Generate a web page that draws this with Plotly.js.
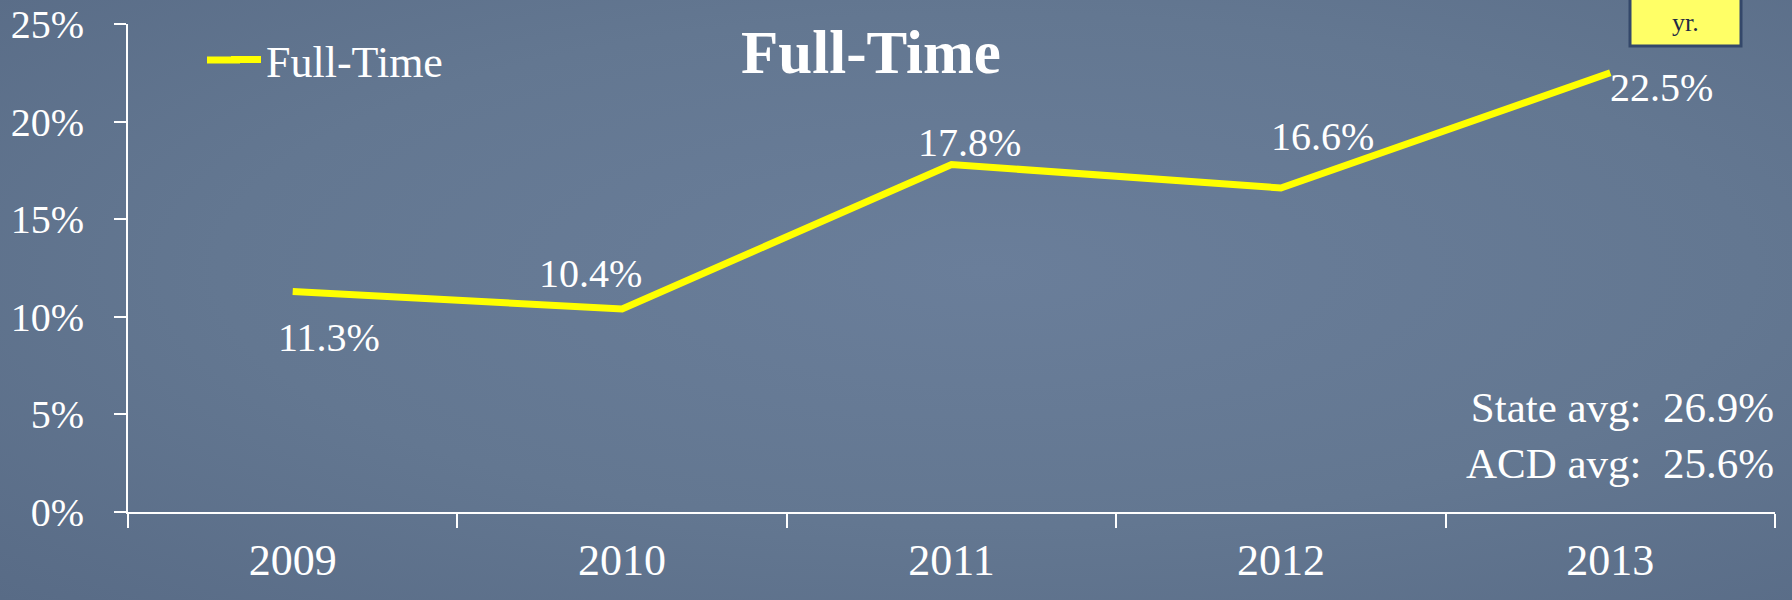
<!DOCTYPE html>
<html>
<head>
<meta charset="utf-8">
<script src="https://cdn.plot.ly/plotly-3.0.1.min.js"></script>
<style>
  html, body { margin: 0; padding: 0; }
  body {
    width: 1792px; height: 600px; overflow: hidden;
    background: radial-gradient(ellipse at 55% 45%, #6a7e9a 0%, #637791 55%, #586b86 100%);
  }
  #chart { width: 1792px; height: 600px; }
</style>
</head>
<body>
<div id="chart"></div>
<script>
// ---- data ----
const years = ['2009', '2010', '2011', '2012', '2013'];
const fullTime = [11.3, 10.4, 17.8, 16.6, 22.5];
const seriesName = 'Full-Time';
const chartTitle = 'Full-Time';
const stateAvg = 26.9;
const acdAvg = 25.6;
const noteText = 'yr.';

// ---- label offsets (pixels, styling only) ----
const labelShiftX = [36, -32, 18, 42, 51];
const labelShiftY = [-46, 35, 22, 51, -15];

const FONT = 'Liberation Serif, Times New Roman, serif';
const nb = '\u00a0';
const PX = v => (v - 128) / 1647;   // pixel x -> paper x
const PY = v => (512 - v) / 488;    // pixel y -> paper y

const trace = {
  type: 'scatter',
  mode: 'lines',
  x: years,
  y: fullTime,
  name: seriesName,
  line: { color: '#ffff00', width: 7 },
  showlegend: true,
  hoverinfo: 'none'
};

// category axis: annotation x given as category index
const annotations = years.map((yr, i) => ({
  x: i, y: fullTime[i], xref: 'x', yref: 'y',
  text: fullTime[i].toFixed(1) + '%',
  showarrow: false,
  xshift: labelShiftX[i], yshift: labelShiftY[i],
  font: { family: FONT, size: 40, color: '#ffffff' }
}));

annotations.push({
  xref: 'paper', yref: 'paper', x: PX(1776), y: PY(436),
  xanchor: 'right', yanchor: 'middle', align: 'right',
  text: 'State avg:' + nb + nb + stateAvg.toFixed(1) + '%<br>ACD avg:' + nb + nb + acdAvg.toFixed(1) + '%',
  showarrow: false,
  font: { family: FONT, size: 43, color: '#ffffff' }
});

annotations.push({
  xref: 'paper', yref: 'paper', x: PX(1685), y: PY(22),
  xanchor: 'center', yanchor: 'middle',
  text: noteText, showarrow: false,
  font: { family: FONT, size: 26, color: '#1f2a44' }
});

const layout = {
  width: 1792, height: 600,
  margin: { l: 128, r: 17, t: 24, b: 88 },
  paper_bgcolor: 'rgba(0,0,0,0)',
  plot_bgcolor: 'rgba(0,0,0,0)',
  font: { family: FONT, color: '#ffffff' },
  title: {
    text: '<b>' + chartTitle + '</b>',
    x: 871 / 1792, xanchor: 'center',
    y: 1 - 52 / 600, yanchor: 'middle',
    font: { family: FONT, size: 61, color: '#ffffff' }
  },
  xaxis: {
    type: 'category',
    range: [-0.5, 4.5],
    tickson: 'boundaries',
    ticks: 'outside', ticklen: 14, tickwidth: 2, tickcolor: '#ffffff',
    showline: true, linecolor: '#ffffff', linewidth: 2,
    showgrid: false, zeroline: false,
    tickfont: { family: FONT, size: 44, color: '#ffffff' },
    ticklabelstandoff: 8
  },
  yaxis: {
    range: [0, 25],
    dtick: 5, tick0: 0,
    ticksuffix: '%',
    ticks: 'outside', ticklen: 12, tickwidth: 2, tickcolor: '#ffffff',
    showline: true, linecolor: '#ffffff', linewidth: 2,
    showgrid: false, zeroline: false,
    tickfont: { family: FONT, size: 40, color: '#ffffff' },
    ticklabelstandoff: 22
  },
  legend: {
    x: PX(226), xanchor: 'left',
    y: PY(60), yanchor: 'middle',
    bgcolor: 'rgba(0,0,0,0)',
    font: { family: FONT, size: 44, color: '#ffffff' }
  },
  shapes: [{
    type: 'rect', xref: 'paper', yref: 'paper',
    x0: PX(1630), x1: PX(1741),
    y0: PY(46), y1: PY(-5),
    fillcolor: '#ffff66',
    line: { color: '#34486a', width: 3 },
    layer: 'above'
  }, {
    // extends the legend key line to the reference's key length
    type: 'line', xref: 'paper', yref: 'paper',
    x0: PX(207), x1: PX(240), y0: PY(60), y1: PY(60),
    line: { color: '#ffff00', width: 7 },
    layer: 'above'
  }],
  annotations: annotations,
  showlegend: true
};

Plotly.newPlot('chart', [trace], layout, { displayModeBar: false, staticPlot: true });
</script>
</body>
</html>
